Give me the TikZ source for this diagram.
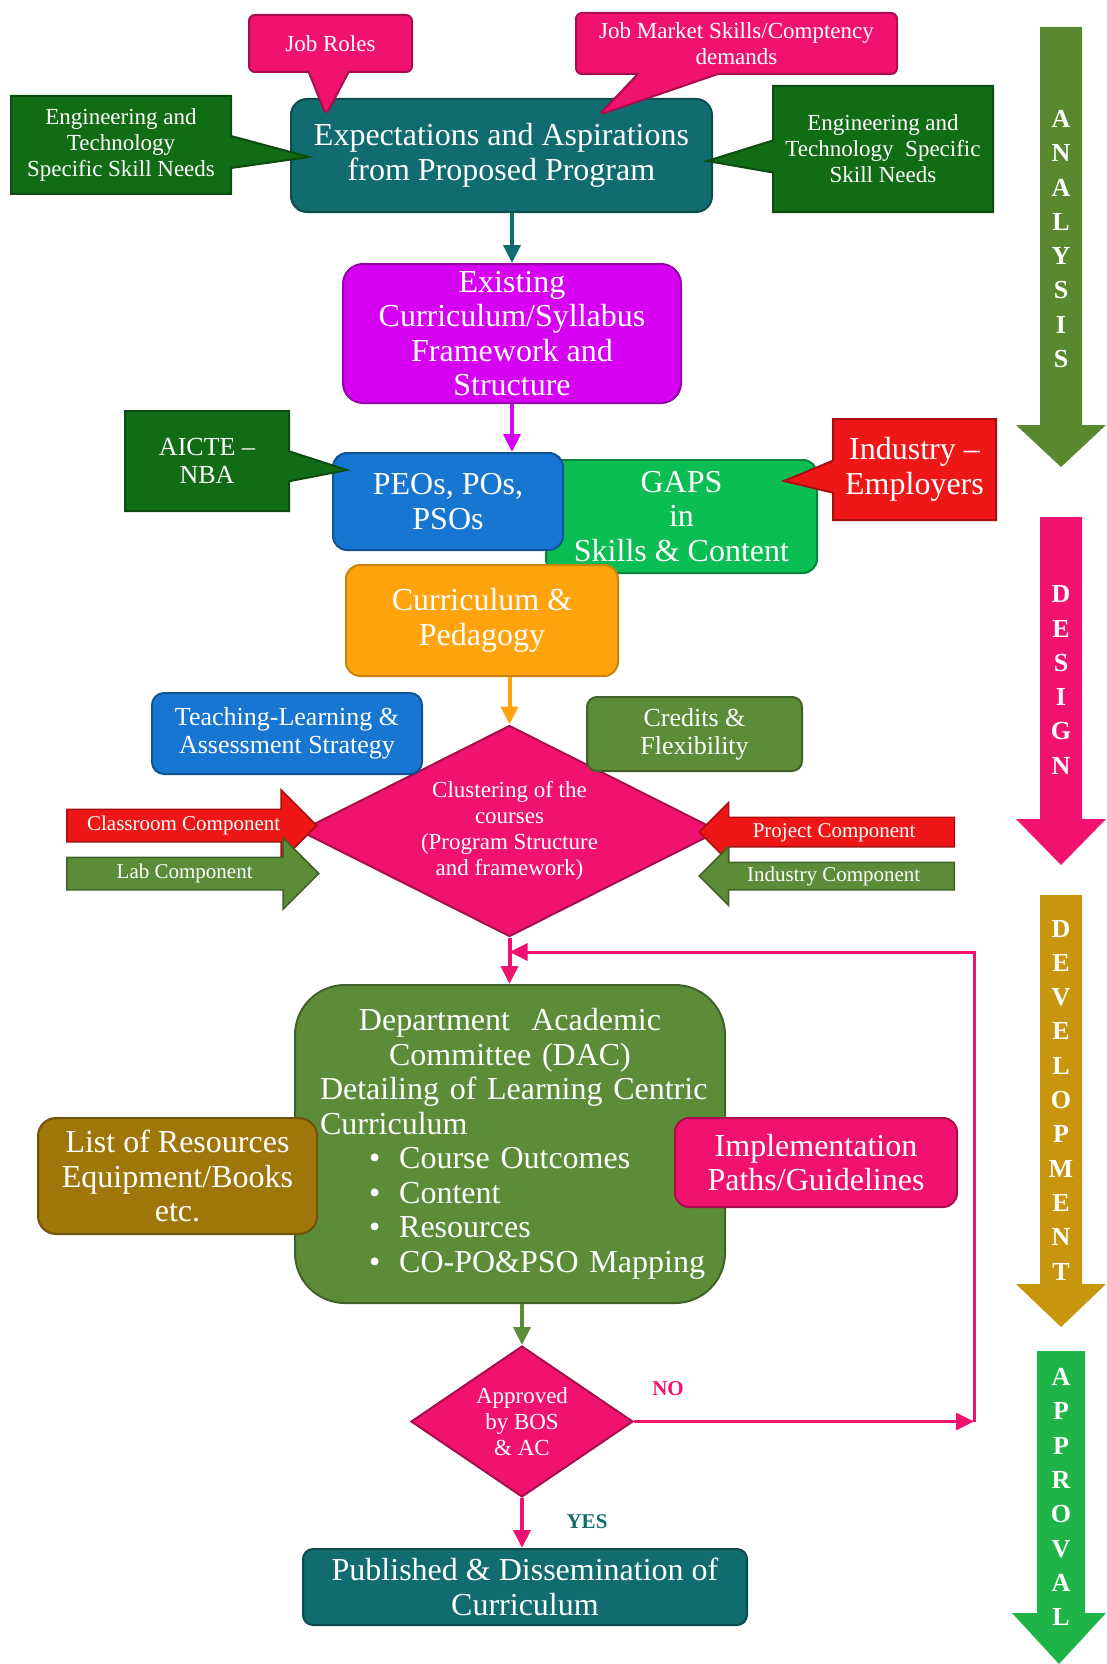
\documentclass[tikz,border=0pt]{standalone}
\usepackage{fontspec}
\setmainfont{Liberation Serif}
\usetikzlibrary{shapes.geometric,shapes.callouts,shapes.arrows,arrows.meta}
\definecolor{tealbox}{RGB}{16,108,110}
\definecolor{pinkbox}{RGB}{240,18,110}
\definecolor{darkgreen}{RGB}{18,108,22}
\definecolor{violetbox}{RGB}{214,0,242}
\definecolor{bluebox}{RGB}{22,118,210}
\definecolor{gapsgreen}{RGB}{10,190,84}
\definecolor{redbox}{RGB}{238,22,22}
\definecolor{orangebox}{RGB}{255,164,12}
\definecolor{olivebox}{RGB}{92,140,56}
\definecolor{goldbox}{RGB}{158,118,10}
\definecolor{goldarrow}{RGB}{200,150,12}
\definecolor{greenarrow}{RGB}{30,180,72}
\definecolor{olivearrow}{RGB}{90,136,46}
\begin{document}
\begin{tikzpicture}[x=1pt,y=-1pt]
\tikzstyle{every node}+=[inner sep=0pt, text=white, align=center]
\tikzstyle{rbox}=[rectangle, draw, line width=2pt, rounded corners=14pt]
\tikzstyle{sbox}=[rectangle callout, draw, line width=2pt]
\tikzstyle{flow}=[line width=4pt, -{Triangle[length=18pt,width=17pt]}]
\tikzstyle{bigtxt}=[font=\fontsize{32}{34.5}\selectfont]
\tikzstyle{midtxt}=[font=\fontsize{26}{28}\selectfont]
\tikzstyle{smalltxt}=[font=\fontsize{23}{26}\selectfont]
\tikzstyle{tinytxt}=[font=\fontsize{21}{22}\selectfont]
\tikzstyle{blockarrow}=[single arrow, draw, line width=1.5pt, single arrow head indent=0pt, anchor=tail, tinytxt, text height=14pt, text depth=4pt]
\tikzstyle{stagetxt}=[font=\fontsize{26}{34.3}\selectfont\bfseries]
\useasboundingbox (0,0) rectangle (1106,1664);
% analysis
\node[rbox, fill=tealbox, draw=tealbox!70!black, minimum width=421pt, minimum height=113pt, rounded corners=16pt, bigtxt] (expect) at (501.5,155.5) {Expectations and Aspirations\\from Proposed Program};
\node[sbox, fill=pinkbox, draw=pinkbox!70!black, rounded corners=6pt, minimum width=163pt, minimum height=57pt, callout absolute pointer={([xshift=36pt,yshift=-17pt]expect.north west)}, callout pointer width=40pt, smalltxt] (jobroles) at (330.5,43.5) {Job Roles};
\node[sbox, fill=pinkbox, draw=pinkbox!70!black, rounded corners=6pt, minimum width=321pt, minimum height=61pt, callout absolute pointer={([xshift=309pt,yshift=-17pt]expect.north west)}, callout pointer width=80pt, smalltxt] (jobmarket) at (736.5,43.5) {Job Market Skills/Comptency\\demands};
\node[sbox, fill=darkgreen, draw=darkgreen!70!black, minimum width=220pt, minimum height=98pt, callout absolute pointer={([xshift=19pt,yshift=-1.5pt]expect.west)}, callout pointer width=32pt, smalltxt] (engleft) at (121,145) {Engineering and\\Technology\\Specific Skill Needs};
\node[sbox, fill=darkgreen, draw=darkgreen!70!black, minimum width=220pt, minimum height=126pt, callout absolute pointer={([xshift=-6pt,yshift=-5.5pt]expect.east)}, callout pointer width=32pt, smalltxt] (engright) at (883,149) {Engineering and\\Technology\ \ Specific\\Skill Needs};
\node[rbox, fill=violetbox, draw=violetbox!70!black, minimum width=338pt, minimum height=139pt, rounded corners=20pt, bigtxt] (exist) at (512,333.5) {Existing\\Curriculum/Syllabus\\Framework and\\Structure};
\draw[flow, tealbox] (expect.south -| exist.north) -- (exist.north);
% design
\node[rbox, fill=gapsgreen, draw=gapsgreen!70!black, minimum width=271pt, minimum height=113pt, bigtxt] (gaps) at (681.5,516.5) {GAPS\\in\\Skills \& Content};
\node[rbox, fill=bluebox, draw=bluebox!70!black, minimum width=230pt, minimum height=97pt, bigtxt] (peos) at (448,501.5) {PEOs, POs,\\PSOs};
\draw[flow, violetbox] (exist.south) -- (exist.south |- peos.north);
\node[sbox, fill=darkgreen, draw=darkgreen!70!black, minimum width=164pt, minimum height=100pt, callout absolute pointer={([xshift=15pt,yshift=31.5pt]peos.west)}, callout pointer width=30pt, midtxt] (aicte) at (207,461) {AICTE --\\NBA};
\node[sbox, fill=redbox, draw=redbox!70!black, minimum width=163pt, minimum height=101pt, callout absolute pointer={([xshift=-34pt,yshift=35.5pt]gaps.east)}, callout pointer width=32pt, bigtxt] (industry) at (914.5,469.5) {Industry --\\Employers};
\node[rbox, fill=orangebox, draw=orangebox!80!black, minimum width=272pt, minimum height=111pt, bigtxt] (currped) at (482,620.5) {Curriculum \&\\Pedagogy};
\node[diamond, fill=pinkbox, draw=pinkbox!70!black, line width=2pt, aspect=2, minimum width=419pt, minimum height=211pt, smalltxt] (cluster) at (509.5,831) {Clustering of the\\courses\\(Program Structure\\and framework)};
\draw[flow, orangebox] (cluster.north |- currped.south) -- (cluster.north);
\node[rbox, fill=bluebox, draw=bluebox!70!black, minimum width=270pt, minimum height=81pt, rounded corners=12pt, midtxt] (teach) at (287,733.5) {Teaching-Learning \&\\Assessment Strategy};
\node[rbox, fill=olivebox, draw=olivebox!70!black, minimum width=215pt, minimum height=74pt, rounded corners=10pt, midtxt] (credits) at (694.5,734) {Credits \&\\Flexibility};
\node[blockarrow, fill=redbox, draw=redbox!70!black, minimum height=250pt, inner ysep=6.5pt, single arrow head extend=19.5pt] (classroom) at (66,825.5) {Classroom Component};
\node[blockarrow, fill=olivebox, draw=olivebox!70!black, minimum height=252pt, inner ysep=6.5pt, single arrow head extend=19.5pt] (lab) at (66,873.5) {Lab Component};
\node[blockarrow, fill=redbox, draw=redbox!70!black, shape border rotate=180, minimum height=255pt, inner ysep=5pt, single arrow head extend=14.5pt] (project) at (955,832) {Project Component};
\node[blockarrow, fill=olivebox, draw=olivebox!70!black, shape border rotate=180, minimum height=255pt, inner ysep=4pt, single arrow head extend=15.5pt] (indcomp) at (955,876) {Industry Component};
% development
\node[rbox, fill=olivebox, draw=olivebox!70!black, minimum width=430pt, minimum height=318pt, rounded corners=50pt, bigtxt, text width=400pt, align=left] (dac) at (510,1144) {\makebox[400pt]{Department\ \ Academic}\\\makebox[400pt]{Committee (DAC)}\\\hspace*{10pt}Detailing of\ Learning Centric\\\hspace*{10pt}Curriculum\\\hspace*{59pt}\textbullet\hspace{19pt}Course Outcomes\\\hspace*{59pt}\textbullet\hspace{19pt}Content\\\hspace*{59pt}\textbullet\hspace{19pt}Resources\\\hspace*{59pt}\textbullet\hspace{19pt}CO-PO\&PSO Mapping};
\draw[flow, pinkbox] (cluster.south) -- (cluster.south |- dac.north);
\node[rbox, fill=goldbox, draw=goldbox!70!black, minimum width=279pt, minimum height=116pt, rounded corners=18pt, bigtxt] (listres) at (177.5,1176) {List of\ Resources\\Equipment/Books\\etc.};
\node[rbox, fill=pinkbox, draw=pinkbox!70!black, minimum width=282pt, minimum height=89pt, bigtxt] (impl) at (816,1162.5) {Implementation\\Paths/Guidelines};
% approval
\node[diamond, fill=pinkbox, draw=pinkbox!70!black, line width=2pt, aspect=1.5, minimum width=222pt, minimum height=151pt, smalltxt] (approved) at (522,1421.5) {Approved\\by BOS\\\& AC};
\draw[flow, olivebox] (approved.north |- dac.south) -- (approved.north);
\node[rbox, fill=tealbox, draw=tealbox!70!black, minimum width=444pt, minimum height=76pt, rounded corners=10pt, bigtxt] (published) at (525,1587) {Published \& Dissemination of\\Curriculum};
\draw[flow, pinkbox] (approved.south) -- (approved.south |- published.north);
\coordinate (noturn) at (974,1421.5);
\coordinate (noup) at (974,952);
\draw[flow, pinkbox, line width=3pt] (approved.east) -- (noturn);
\draw[flow, pinkbox, line width=3pt] (noturn) -- (noup) -- (noup -| cluster.south);
\node[font=\fontsize{21}{22}\selectfont\bfseries, text=pinkbox] (nolabel) at (668,1389) {NO};
\node[font=\fontsize{21}{22}\selectfont\bfseries, text=tealbox] (yeslabel) at (587,1522) {YES};
% stage arrows
\fill[olivearrow] (1040,27) -- (1082,27) -- (1082,425) -- (1106,425) -- (1061,467) -- (1016,425) -- (1040,425) -- cycle;
\fill[pinkbox] (1040,517) -- (1082,517) -- (1082,819) -- (1106,819) -- (1061,865) -- (1016,819) -- (1040,819) -- cycle;
\fill[goldarrow] (1040,895) -- (1082,895) -- (1082,1284) -- (1106,1284) -- (1061,1327) -- (1016,1284) -- (1040,1284) -- cycle;
\fill[greenarrow] (1037,1351) -- (1085,1351) -- (1085,1613) -- (1106,1613) -- (1059,1664) -- (1012,1613) -- (1037,1613) -- cycle;
\node[stagetxt] (analysis) at (1061,239) {A\\N\\A\\L\\Y\\S\\I\\S};
\node[stagetxt] (design) at (1061,680) {D\\E\\S\\I\\G\\N};
\node[stagetxt] (develop) at (1061,1100) {D\\E\\V\\E\\L\\O\\P\\M\\E\\N\\T};
\node[stagetxt] (approval) at (1061,1497) {A\\P\\P\\R\\O\\V\\A\\L};
\end{tikzpicture}
\end{document}
